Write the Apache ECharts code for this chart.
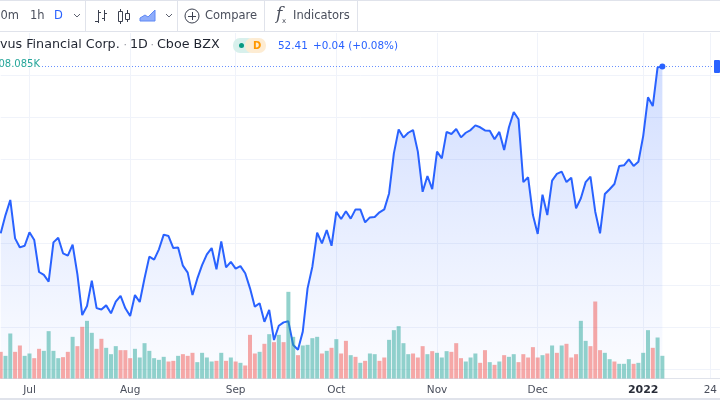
<!DOCTYPE html>
<html>
    <head>
        <title></title>
        <meta charset="UTF-8">
        <style>
            html, body { margin: 0; padding: 0; background: #fff; }
            #chart { width: 720px; height: 400px; }
        </style>
        <script src="https://cdn.jsdelivr.net/npm/echarts@6/dist/echarts.min.js"></script>
    </head>
    <body>
        <div id="chart"></div>
    </body>
    <script>
        // closing prices, one per trading day, starting 23 Jun 2021
        var prices = [
            44.46, 45.33, 46.05, 44.22, 43.79, 43.87, 44.51, 44.14, 42.62, 42.48,
            42.16, 44.03, 44.25, 43.51, 43.40, 43.92, 42.51, 40.57, 41.00, 42.21,
            40.90, 40.83, 41.03, 40.65, 41.21, 41.48, 40.89, 40.52, 41.52, 41.19,
            42.32, 43.35, 43.21, 43.70, 44.40, 44.33, 43.76, 43.79, 42.92, 42.59,
            41.52, 42.30, 42.95, 43.46, 43.76, 42.75, 44.08, 42.84, 43.10, 42.78,
            42.90, 42.56, 41.84, 40.97, 41.13, 40.25, 40.81, 39.38, 40.06, 40.22,
            40.27, 39.14, 38.92, 39.78, 41.84, 42.87, 44.49, 43.98, 44.62, 43.87,
            45.48, 45.14, 45.51, 45.16, 45.60, 45.60, 44.98, 45.22, 45.24, 45.46,
            45.60, 46.36, 48.27, 49.41, 49.02, 49.25, 49.38, 48.35, 46.44, 47.19,
            46.57, 48.35, 48.03, 49.29, 49.19, 49.43, 49.03, 49.25, 49.38, 49.60,
            49.51, 49.36, 49.35, 48.94, 49.29, 48.43, 49.51, 50.24, 49.89, 46.90,
            47.13, 45.33, 44.43, 46.30, 45.33, 46.97, 47.29, 47.40, 46.90, 47.11,
            45.65, 46.13, 46.90, 47.16, 45.49, 44.46, 46.33, 46.56, 46.81, 47.67,
            47.70, 47.98, 47.67, 47.87, 49.09, 50.94, 50.52, 52.36, 52.41
        ];

        // volume in thousands
        var volumes = [
            832, 707, 1404, 832, 1030, 707, 780, 634, 926, 863,
            1477, 863, 634, 666, 832, 1300, 1009, 1612, 1799, 1425,
            926, 1238, 957, 759, 1009, 884, 884, 634, 926, 655,
            1102, 863, 634, 582, 676, 530, 551, 707, 759, 707,
            801, 510, 801, 655, 530, 551, 801, 551, 655, 530,
            489, 406, 1362, 780, 832, 1082, 1383, 1134, 1362, 1134,
            2704, 1300, 728, 1030, 1050, 1258, 1300, 780, 863, 957,
            1227, 780, 1175, 728, 676, 489, 551, 780, 759, 551,
            655, 1206, 1508, 1633, 1102, 759, 780, 655, 1009, 759,
            853, 801, 655, 853, 832, 1102, 634, 530, 655, 780,
            489, 884, 510, 426, 530, 728, 676, 759, 510, 759,
            655, 978, 655, 728, 780, 1030, 801, 1030, 1082, 655,
            759, 1799, 1175, 1009, 2402, 884, 801, 603, 530, 458,
            458, 603, 458, 489, 801, 1508, 957, 1279, 708
        ];

        // g = teal bar, r = red bar
        var volumeSides = [
            'rggrrggrrg', 'gggrrgrrgg', 'rrgggrrrgg', 'gggggrrgrr',
            'rggggrgrgr', 'grrrgrgrgr', 'ggrggggrgr', 'grrgrgrggr',
            'rgggggrrrg', 'rgggrrrggg', 'rrgrgrggrr', 'rrrgrgrgrr',
            'rggrrrggrg', 'ggrgggrgg'
        ].join('');

        var tickIndexes = [6, 27, 49, 70, 91, 112, 134, 148];
        var tickLabels = ['Jul', 'Aug', 'Sep', 'Oct', 'Nov', 'Dec', '2022', '24'];
        var priceTicks = [38, 40, 42, 44, 46, 48, 50, 52];
        var slotCount = 151;

        var categories = [];
        for (var i = 0; i < slotCount; i++) {
            var at = tickIndexes.indexOf(i);
            categories.push(at >= 0 ? tickLabels[at] : '');
        }

        var font = '"DejaVu Sans", sans-serif';
        var barData = volumes.map(function(v, i) {
            return {
                value: v,
                itemStyle: { color: volumeSides[i] === 'g' ? 'rgba(38,166,154,0.5)' : 'rgba(239,83,80,0.5)' }
            };
        });
        var hasLabel = function(index, value) { return value !== ''; };

        // toolbar and legend, these are not part of the plot
        function label(x, y, text, opt) {
            return {
                type: 'text', x: x, y: y, z: 20,
                style: Object.assign({
                    text: text, fontFamily: font, fontSize: 11.5, fill: '#4a4f5c', textVerticalAlign: 'middle'
                }, opt || {})
            };
        }
        function seg(x1, y1, x2, y2, color) {
            return {
                type: 'line', z: 20,
                shape: { x1: x1, y1: y1, x2: x2, y2: y2 },
                style: { stroke: color || '#3c4150', lineWidth: 1 }
            };
        }
        function box(x, y, w, h, fill, r) {
            return {
                type: 'rect', z: 20,
                shape: { x: x, y: y, width: w, height: h, r: r || 0 },
                style: { fill: fill }
            };
        }
        function chevron(x) {
            return {
                type: 'polyline', z: 20,
                shape: { points: [[x - 3, 14], [x, 17], [x + 3, 14]] },
                style: { stroke: '#5d6270', fill: null, lineWidth: 1 }
            };
        }

        var graphics = [
            box(0, 0, 720, 1, '#e0e3eb'),
            box(0, 31, 720, 1, '#e0e3eb'),
            box(0, 398, 720, 2, '#e0e3eb'),
            seg(85.5, 1, 85.5, 31, '#e0e3eb'),
            seg(177.5, 1, 177.5, 31, '#e0e3eb'),
            seg(264.5, 1, 264.5, 31, '#e0e3eb'),
            seg(357.5, 1, 357.5, 31, '#e0e3eb'),
            label(19, 16, '30m', { textAlign: 'right' }),
            label(30, 16, '1h'),
            label(54, 16, 'D', { fill: '#2962ff' }),
            chevron(77),
            // bar style icon
            seg(98.5, 10, 98.5, 23), seg(95, 21.5, 98.5, 21.5), seg(98.5, 12.5, 101, 12.5),
            seg(104.5, 10, 104.5, 21), seg(102, 18.5, 104.5, 18.5), seg(104.5, 13.5, 107, 13.5),
            // candle icon
            seg(120.5, 9, 120.5, 24),
            {
                type: 'rect', z: 21, shape: { x: 118.5, y: 11.5, width: 4, height: 10 },
                style: { fill: '#fff', stroke: '#3c4150', lineWidth: 1 }
            },
            seg(127.5, 10, 127.5, 22),
            {
                type: 'rect', z: 21, shape: { x: 125.5, y: 13.5, width: 4, height: 6 },
                style: { fill: '#fff', stroke: '#3c4150', lineWidth: 1 }
            },
            // area icon
            {
                type: 'polygon', z: 20,
                shape: { points: [[140, 21], [140, 18], [145, 15], [148, 17], [155, 10], [155, 21]] },
                style: { fill: '#8fadfb', stroke: '#5f88f5', lineWidth: 1 }
            },
            chevron(169),
            {
                type: 'circle', z: 20, shape: { cx: 192, cy: 16, r: 7 },
                style: { fill: null, stroke: '#3c4150', lineWidth: 1 }
            },
            seg(188, 16.5, 196, 16.5), seg(192.5, 12, 192.5, 20),
            label(205, 16, 'Compare'),
            label(276, 15, 'f', { fontFamily: '"DejaVu Serif", serif', fontStyle: 'italic', fontSize: 17 }),
            label(282, 21, 'x', { fontSize: 7 }),
            label(293, 16, 'Indicators'),
            label(0, 45, 'vus Financial Corp.', { fontSize: 12.7, fill: '#1f2430' }),
            label(123.5, 45, '·', { fontSize: 11, fill: '#9598a1' }),
            label(130, 45, '1D', { fontSize: 12.7, fill: '#1f2430' }),
            label(150.5, 45, '·', { fontSize: 11, fill: '#9598a1' }),
            label(157, 45, 'Cboe BZX', { fontSize: 12.7, fill: '#1f2430' }),
            box(233, 38, 22, 15, '#d8f0ec', 7),
            box(245, 38, 21, 15, '#fdecd3', 7),
            {
                type: 'circle', z: 21, shape: { cx: 241.5, cy: 45.5, r: 2.5 },
                style: { fill: '#089981' }
            },
            label(253, 46, 'D', { fontSize: 10, fill: '#ff9800', fontWeight: 'bold' }),
            label(278, 46, '52.41', { fontSize: 10.4, fill: '#2962ff' }),
            label(313, 46, '+0.04 (+0.08%)', { fontSize: 10.4, fill: '#2962ff' }),
            label(40, 64, '708.085K', { fontSize: 10, fill: '#26a69a', textAlign: 'right' }),
            box(714, 60, 6, 13, '#2962ff', 1)
        ];

        var option = {
            animation: false,
            backgroundColor: '#fff',
            graphic: graphics,
            grid: { left: 0.7, right: -0.7, top: 33, bottom: 21.5, containLabel: false },
            xAxis: {
                type: 'category',
                data: categories,
                boundaryGap: false,
                axisLine: { lineStyle: { color: '#e0e3eb' } },
                axisTick: { show: false },
                axisLabel: {
                    interval: hasLabel,
                    fontFamily: font,
                    fontSize: 10.5,
                    color: '#4a4f5c',
                    margin: 6,
                    formatter: function(v) { return v === '2022' ? '{b|2022}' : v; },
                    rich: { b: { fontFamily: font, fontSize: 11, fontWeight: 'bold', color: '#2a2e39' } }
                },
                splitLine: { show: true, interval: hasLabel, lineStyle: { color: '#f0f3fa', width: 1 } }
            },
            yAxis: [
                {
                    type: 'value',
                    min: 37.548,
                    max: 54,
                    axisLine: { show: false },
                    axisTick: { show: false, customValues: priceTicks },
                    axisLabel: { show: false, customValues: priceTicks },
                    splitLine: { show: true, lineStyle: { color: '#f0f3fa', width: 1 } }
                },
                {
                    type: 'value',
                    min: 0,
                    max: 10780,
                    axisLine: { show: false },
                    axisTick: { show: false },
                    axisLabel: { show: false },
                    splitLine: { show: false }
                }
            ],
            series: [
                {
                    name: 'Price',
                    type: 'line',
                    data: prices,
                    yAxisIndex: 0,
                    z: 2,
                    showSymbol: false,
                    clip: false,
                    lineStyle: { color: '#2962ff', width: 2 },
                    areaStyle: {
                        color: {
                            type: 'linear', x: 0, y: 0, x2: 0, y2: 1,
                            colorStops: [
                                { offset: 0, color: 'rgba(41,98,255,0.3)' },
                                { offset: 1, color: 'rgba(41,98,255,0.02)' }
                            ]
                        }
                    },
                    markPoint: {
                        silent: true,
                        symbol: 'circle',
                        symbolSize: 6,
                        itemStyle: { color: '#2962ff' },
                        label: { show: false },
                        data: [{ coord: [prices.length - 1, prices[prices.length - 1]] }]
                    },
                    markLine: {
                        silent: true,
                        symbol: 'none',
                        label: { show: false },
                        lineStyle: { color: '#2962ff', type: [1, 2], width: 1, opacity: 0.7 },
                        data: [[
                            { x: 42, yAxis: prices[prices.length - 1] },
                            { x: 714, yAxis: prices[prices.length - 1] }
                        ]]
                    }
                },
                {
                    name: 'Volume',
                    type: 'bar',
                    data: barData,
                    yAxisIndex: 1,
                    z: 3,
                    barWidth: 4,
                    clip: false
                }
            ]
        };

        var chart = echarts.init(document.getElementById('chart'), null, { renderer: 'canvas' });
        chart.setOption(option);
    </script>
</html>
